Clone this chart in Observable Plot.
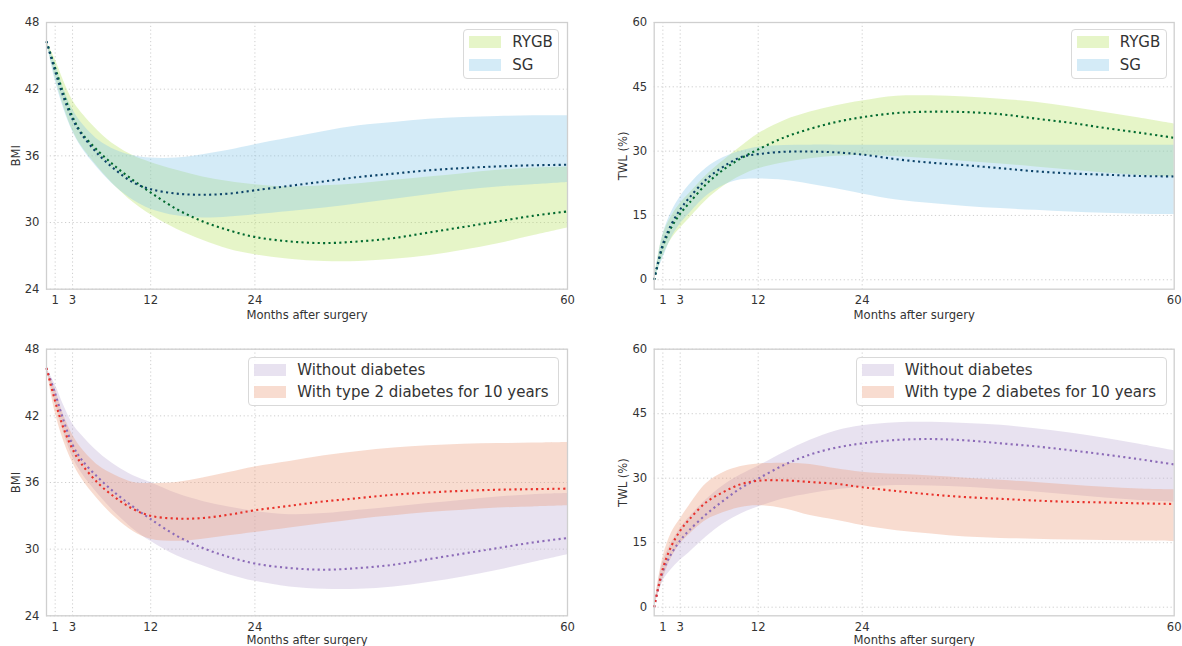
<!DOCTYPE html>
<html>
<head>
<meta charset="utf-8">
<script src="https://cdn.jsdelivr.net/npm/d3@7"></script>
<script src="https://cdn.jsdelivr.net/npm/@observablehq/plot@0.6"></script>
<style>
  body { margin: 0; background: #fff; font-family: "DejaVu Sans", sans-serif; }
  #wrap { position: relative; width: 1182px; height: 646px; overflow: hidden; }
  .panel { position: absolute; }
  .legend { position: absolute; background: rgba(255,255,255,0.85); border: 1px solid #d9d9d9; border-radius: 4px; box-sizing: border-box; }
  .patch { position: absolute; width: 32px; height: 12px; }
  .ltext { position: absolute; font-size: 15px; color: #333; line-height: 18px; white-space: nowrap; }
</style>
</head>
<body>
<div id="wrap"></div>
<script>
// ---------- data ----------
const months = [0,1,2,3,4,6,8,10,12,15,18,21,24,28,32,36,40,44,48,52,56,60];
const monthTicks = [1,3,12,24,60];
const bmiTicks = [24,30,36,42,48];
const twlTicks = [0,15,30,45,60];
const xLabel = "Months after surgery";

// Top-left: BMI by surgery type
const rygbBmi     = [46.3,43.9,41.5,39.5,38.1,36.4,35.0,33.8,32.7,31.2,30.1,29.3,28.7,28.3,28.15,28.3,28.6,29.1,29.6,30.1,30.6,31.0];
const rygbBmiLow  = [46.3,43.1,40.4,38.3,36.9,34.9,33.2,31.8,30.7,29.4,28.4,27.6,27.1,26.7,26.5,26.5,26.7,27.0,27.5,28.1,28.8,29.5];
const rygbBmiHigh = [46.3,44.7,42.7,41.0,39.9,38.2,36.9,36.0,35.4,34.7,34.1,33.7,33.4,33.2,33.3,33.5,33.8,34.1,34.4,34.7,34.9,35.0];
const sgBmi       = [46.3,43.6,41.2,39.3,38.0,36.1,34.7,33.6,33.0,32.6,32.5,32.6,32.9,33.3,33.7,34.1,34.4,34.7,34.9,35.05,35.15,35.2];
const sgBmiLow    = [46.3,42.8,40.2,38.2,36.8,34.8,33.2,32.0,31.2,30.6,30.4,30.5,30.7,31.0,31.3,31.7,32.1,32.5,32.9,33.2,33.4,33.6];
const sgBmiHigh   = [46.3,44.3,42.0,40.2,39.0,37.4,36.5,36.0,35.8,35.8,36.1,36.5,37.0,37.6,38.2,38.7,39.0,39.3,39.45,39.55,39.6,39.6];

// Top-right: TWL by surgery type
const rygbTwl     = [0,7.8,12.3,15.4,17.8,22.3,25.7,28.3,30.4,33.2,35.2,36.8,37.9,38.9,39.2,39.1,38.6,37.6,36.6,35.4,34.3,33.1];
const rygbTwlLow  = [0,5.5,9.5,12.0,14.2,18.5,21.8,24.2,25.9,27.3,28.2,28.8,29.0,28.7,28.2,27.6,27.0,26.3,25.6,24.9,24.3,23.9];
const rygbTwlHigh = [0,10.3,14.8,17.8,20.0,24.3,27.8,31.0,34.0,37.1,39.1,40.6,41.7,42.8,42.9,42.6,42.1,41.4,40.3,39.0,37.7,36.3];
const sgTwl       = [0,8.3,13.0,16.4,19.0,23.4,26.4,28.6,29.3,29.85,29.9,29.7,29.2,28.1,27.3,26.7,26.0,25.3,24.8,24.5,24.2,24.1];
const sgTwlLow    = [0,5.0,9.8,13.0,15.3,19.5,22.0,23.3,23.5,23.2,22.3,21.2,20.0,18.6,17.8,17.1,16.6,16.2,15.8,15.5,15.3,15.2];
const sgTwlHigh   = [0,10.5,15.8,19.3,22.0,26.0,28.5,30.0,30.9,31.3,31.4,31.4,31.4,31.4,31.4,31.4,31.4,31.4,31.4,31.4,31.4,31.4];

// Bottom-left: BMI by diabetes status
const noDiabBmi     = [46.3,44.0,41.5,39.4,38.1,36.4,35.0,33.8,32.7,31.2,30.1,29.3,28.7,28.3,28.15,28.3,28.6,29.1,29.6,30.1,30.6,31.0];
const noDiabBmiLow  = [46.3,43.2,40.4,38.3,36.9,34.9,33.2,31.8,30.7,29.4,28.5,27.7,27.1,26.6,26.4,26.4,26.6,27.0,27.5,28.1,28.8,29.5];
const noDiabBmiHigh = [46.3,44.8,42.9,41.3,40.3,38.7,37.5,36.6,36.0,35.0,34.3,33.8,33.4,33.1,33.2,33.5,33.8,34.1,34.4,34.7,34.9,35.0];
const t2dBmi        = [46.3,43.3,40.8,39.0,37.7,35.9,34.6,33.6,33.0,32.75,32.8,33.1,33.5,33.9,34.3,34.6,34.9,35.1,35.25,35.35,35.4,35.45];
const t2dBmiLow     = [46.3,42.3,39.7,37.8,36.4,34.4,32.8,31.6,30.9,30.7,30.9,31.2,31.5,31.9,32.3,32.7,33.0,33.3,33.5,33.7,33.8,33.9];
const t2dBmiHigh    = [46.3,44.4,42.0,40.3,39.1,37.5,36.6,36.0,35.9,36.0,36.4,36.9,37.4,37.9,38.4,38.8,39.1,39.3,39.45,39.5,39.55,39.6];

// Bottom-right: TWL by diabetes status
const noDiabTwl     = [0,8.3,12.5,15.5,17.8,21.6,24.8,27.7,29.9,33.1,35.5,37.1,38.1,38.9,39.1,38.8,38.1,37.4,36.5,35.5,34.4,33.2];
const noDiabTwlLow  = [0,6.0,8.8,10.9,12.6,16.3,19.4,21.7,23.3,25.2,26.4,27.3,27.9,28.3,28.2,27.9,27.4,26.8,26.1,25.4,24.8,24.4];
const noDiabTwlHigh = [0,10.5,15.0,18.3,20.8,25.0,28.3,30.8,32.8,36.0,38.8,41.0,42.2,42.9,43.0,42.7,42.3,41.5,40.5,39.3,37.9,36.4];
const t2dTwl        = [0,9.0,14.3,17.8,20.3,24.4,26.8,28.6,29.4,29.5,29.1,28.7,27.9,27.0,26.2,25.6,25.2,24.8,24.5,24.35,24.15,24.0];
const t2dTwlLow     = [0,6.5,11.5,14.7,16.8,20.2,22.0,23.2,23.6,22.9,21.3,20.2,19.0,17.8,17.0,16.3,16.0,15.8,15.6,15.5,15.4,15.3];
const t2dTwlHigh    = [0,11.5,17.3,20.5,23.5,28.7,31.3,32.7,33.3,33.5,33.2,32.2,31.4,30.9,30.5,30.0,29.5,29.0,28.4,27.9,27.5,27.3];

const seriesNames = { rygb: "RYGB", sg: "SG", noDiab: "Without diabetes", t2d: "With type 2 diabetes for 10 years" };

const colors = {
  rygb:   { fill: "#b8e262", line: "#00692f" },
  sg:     { fill: "#84c6e8", line: "#0c4369" },
  noDiab: { fill: "#bdacd4", line: "#8c6bb8" },
  t2d:    { fill: "#eb9b79", line: "#e8312a" }
};
const fillAlpha = 0.35;

// ---------- helpers ----------
function rows(mean, low, high) {
  return months.map((m, i) => ({ m, mean: mean[i], low: low[i], high: high[i] }));
}

function panel({ left, top, width, height, mL, mR, mT, mB, yDomain, yTicks, yLabel, series, xLabelOffset }) {
  const marks = [
    Plot.gridX(monthTicks.filter(d => d < 60), { stroke: "#c8c8c8", strokeOpacity: 1, strokeWidth: 0.9, strokeDasharray: "1.2,2.6" }),
    Plot.gridY(yTicks, { stroke: "#c8c8c8", strokeOpacity: 1, strokeWidth: 0.9, strokeDasharray: "1.2,2.6" })
  ];
  for (const s of series) {
    marks.push(Plot.areaY(s.data, { x: "m", y1: "low", y2: "high", fill: colors[s.key].fill, fillOpacity: fillAlpha, curve: "catmull-rom" }));
  }
  for (const s of series) {
    marks.push(Plot.lineY(s.data, { x: "m", y: "mean", stroke: colors[s.key].line, strokeWidth: 2.1, strokeDasharray: "2.1,3.3", strokeLinecap: "butt", curve: "catmull-rom" }));
  }
  marks.push(Plot.frame({ stroke: "#cfcfcf", strokeWidth: 1.3 }));
  const chart = Plot.plot({
    width, height,
    marginLeft: mL, marginRight: mR, marginTop: mT, marginBottom: mB,
    style: { fontFamily: "DejaVu Sans, sans-serif", fontSize: "11.6px", color: "#333", background: "transparent", overflow: "visible" },
    x: { domain: [0, 60], ticks: monthTicks, tickSize: 0, tickPadding: 6.5, label: xLabel, labelAnchor: "center", labelArrow: "none", labelOffset: xLabelOffset },
    y: { domain: yDomain, ticks: yTicks, tickSize: 0, tickPadding: 7, label: yLabel, labelAnchor: "center", labelArrow: "none", labelOffset: 35 },
    marks
  });
  const div = document.createElement("div");
  div.className = "panel";
  div.style.left = left + "px";
  div.style.top = top + "px";
  div.appendChild(chart);
  document.getElementById("wrap").appendChild(div);
}

function legend({ left, top, width, height, keys }) {
  const box = document.createElement("div");
  box.className = "legend";
  Object.assign(box.style, { left: left + "px", top: top + "px", width: width + "px", height: height + "px" });
  keys.forEach((k, i) => {
    const p = document.createElement("div");
    p.className = "patch";
    const c = d3.color(colors[k].fill); c.opacity = fillAlpha;
    Object.assign(p.style, { left: "5px", top: (6 + i * 22.6) + "px", background: c.formatRgb() });
    box.appendChild(p);
    const t = document.createElement("div");
    t.className = "ltext";
    t.textContent = seriesNames[k];
    Object.assign(t.style, { left: "48px", top: (3 + i * 22.6) + "px" });
    box.appendChild(t);
  });
  document.getElementById("wrap").appendChild(box);
}

// ---------- panels ----------
panel({ left: 0, top: 0, width: 591, height: 323, mL: 46, mR: 24, mT: 22, mB: 34.3, xLabelOffset: 29.5,
  yDomain: [24, 48], yTicks: bmiTicks, yLabel: "BMI",
  series: [ { key: "rygb", data: rows(rygbBmi, rygbBmiLow, rygbBmiHigh) }, { key: "sg", data: rows(sgBmi, sgBmiLow, sgBmiHigh) } ] });

panel({ left: 591, top: 0, width: 591, height: 323, mL: 62.7, mR: 8.3, mT: 22, mB: 34.3, xLabelOffset: 29.5,
  yDomain: [-2.2, 60], yTicks: twlTicks, yLabel: "TWL (%)",
  series: [ { key: "rygb", data: rows(rygbTwl, rygbTwlLow, rygbTwlHigh) }, { key: "sg", data: rows(sgTwl, sgTwlLow, sgTwlHigh) } ] });

panel({ left: 0, top: 323, width: 591, height: 323, mL: 46, mR: 24, mT: 25.7, mB: 30.7, xLabelOffset: 27.8,
  yDomain: [24, 48], yTicks: bmiTicks, yLabel: "BMI",
  series: [ { key: "noDiab", data: rows(noDiabBmi, noDiabBmiLow, noDiabBmiHigh) }, { key: "t2d", data: rows(t2dBmi, t2dBmiLow, t2dBmiHigh) } ] });

panel({ left: 591, top: 323, width: 591, height: 323, mL: 62.7, mR: 8.3, mT: 25.7, mB: 30.7, xLabelOffset: 27.8,
  yDomain: [-2.0, 60], yTicks: twlTicks, yLabel: "TWL (%)",
  series: [ { key: "noDiab", data: rows(noDiabTwl, noDiabTwlLow, noDiabTwlHigh) }, { key: "t2d", data: rows(t2dTwl, t2dTwlLow, t2dTwlHigh) } ] });

legend({ left: 463.3, top: 29.3, width: 96, height: 50, keys: ["rygb", "sg"] });
legend({ left: 1070.7, top: 29.3, width: 96.6, height: 50, keys: ["rygb", "sg"] });
legend({ left: 248.3, top: 356.7, width: 311, height: 49.3, keys: ["noDiab", "t2d"] });
legend({ left: 855.7, top: 356.7, width: 311.6, height: 49.3, keys: ["noDiab", "t2d"] });
</script>
</body>
</html>
